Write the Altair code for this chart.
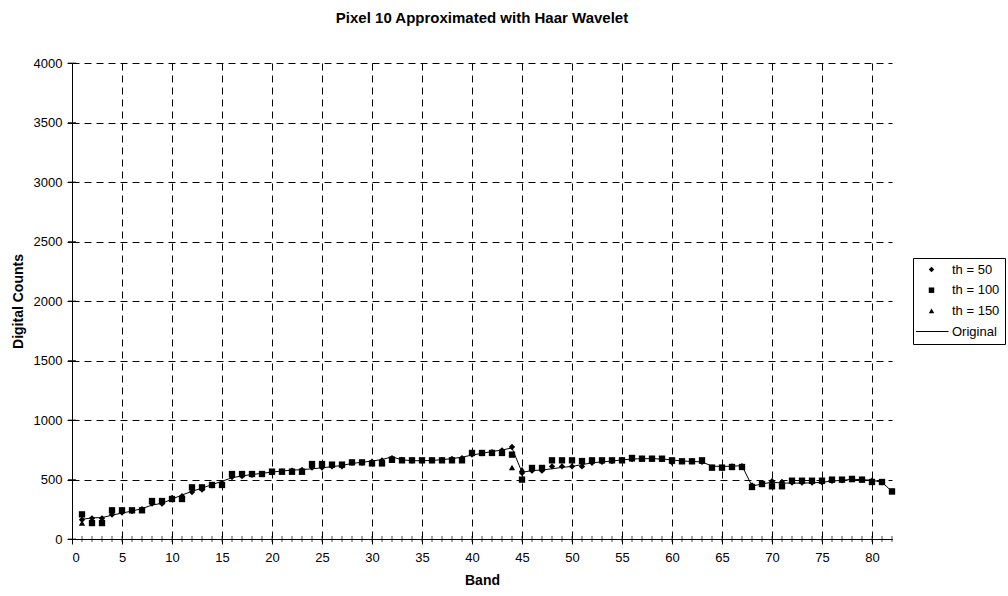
import altair as alt
import pandas as pd

# Spectral bands and digital counts for pixel 10
bands = list(range(1, 83))

original = [
    165, 178, 180, 200, 218, 235, 255, 285, 300, 335,
    370, 400, 428, 457, 485, 515, 530, 542, 552, 562,
    572, 578, 583, 590, 598, 608, 618, 635, 645, 655,
    668, 690, 665, 658, 658, 660, 667, 675, 688, 705,
    720, 735, 748, 765, 560, 575, 580, 590, 602, 610,
    625, 640, 648, 655, 665, 672, 675, 675, 672, 665,
    655, 652, 648, 612, 610, 612, 616, 445, 462, 478,
    470, 470, 470, 472, 476, 488, 492, 503, 498, 494,
    476, 400,
]

th50 = [
    162, 174, 174, 205, 222, 235, 250, 297, 297, 345,
    360, 395, 415, 450, 470, 520, 528, 540, 548, 560,
    568, 575, 580, 600, 600, 610, 610, 640, 640, 650,
    660, 680, 665, 658, 658, 660, 665, 672, 680, 710,
    720, 730, 745, 773, 555, 574, 574, 610, 610, 610,
    610, 640, 648, 655, 665, 672, 675, 675, 672, 644,
    652, 652, 648, 600, 600, 610, 612, 450, 462, 485,
    480, 475, 475, 475, 476, 488, 492, 503, 498, 490,
    476, 400,
]

th100 = [
    207, 134, 134, 241, 241, 241, 241, 319, 319, 336,
    336, 434, 434, 454, 454, 546, 546, 546, 546, 566,
    566, 566, 566, 630, 630, 625, 625, 644, 644, 635,
    635, 667, 661, 661, 661, 661, 661, 661, 661, 723,
    723, 723, 723, 709, 499, 597, 597, 661, 661, 661,
    655, 661, 661, 661, 661, 681, 675, 675, 675, 661,
    653, 653, 661, 600, 600, 605, 605, 437, 462, 443,
    443, 490, 490, 490, 490, 499, 499, 505, 499, 479,
    479, 400,
]

th150 = [
    134, 134, 134, 241, 241, 241, 241, 319, 319, 336,
    336, 434, 434, 454, 454, 546, 546, 546, 546, 566,
    566, 566, 566, 625, 625, 625, 625, 644, 644, 640,
    640, 661, 661, 661, 661, 661, 661, 661, 661, 723,
    723, 723, 723, 600, 585, 597, 597, 661, 661, 661,
    655, 661, 661, 661, 661, 675, 675, 675, 675, 655,
    653, 653, 655, 600, 600, 605, 605, 437, 462, 443,
    443, 490, 490, 490, 490, 499, 499, 499, 499, 479,
    479, 400,
]

series_names = ["th = 50", "th = 100", "th = 150", "Original"]
x_ticks = list(range(0, 81, 5))
y_ticks = list(range(0, 4001, 500))

FONT = "Liberation Sans"

approx = pd.concat(
    [
        pd.DataFrame({"Band": bands, "Counts": vals, "Series": name})
        for name, vals in zip(series_names[:3], [th50, th100, th150])
    ],
    ignore_index=True,
)
orig_df = pd.DataFrame({"Band": bands, "Counts": original})
tick_df = pd.DataFrame({"Band": bands})
ytick_df = pd.DataFrame({"Counts": y_ticks})

x_scale = alt.Scale(domain=[0, 82], nice=False, zero=False)
y_scale = alt.Scale(domain=[0, 4000], nice=False)

x_enc = alt.X(
    "Band:Q",
    scale=x_scale,
    axis=alt.Axis(
        values=x_ticks,
        format="d",
        title="Band",
        grid=True,
        tickSize=5,
        labelPadding=7,
        titlePadding=9,
    ),
)
y_enc = alt.Y(
    "Counts:Q",
    scale=y_scale,
    axis=alt.Axis(
        values=y_ticks,
        format="d",
        title="Digital Counts",
        grid=True,
        tickSize=5,
        labelPadding=5,
        titlePadding=8,
    ),
)

# the "Original" legend entry is a thin filled bar standing in for the line
shape_scale = alt.Scale(
    domain=series_names,
    range=["diamond", "square", "triangle-up", "M-5.7,-0.18H6.2V0.18H-5.7Z"],
)

markers = (
    alt.Chart(approx)
    .mark_point(filled=True, color="black", size=40, opacity=1)
    .encode(
        x=x_enc,
        y=y_enc,
        shape=alt.Shape(
            "Series:N",
            scale=shape_scale,
            legend=alt.Legend(
                title=None,
                orient="none",
                legendX=841,
                legendY=195,
                strokeColor="black",
                fillColor="white",
                padding=5,
                labelFont=FONT,
                labelFontSize=13,
                labelColor="black",
                symbolSize=30,
                symbolFillColor="black",
                symbolOpacity=1,
                symbolOffset=7,
                rowPadding=6.7,
                labelOffset=14,
            ),
        ),
    )
)

line = (
    alt.Chart(orig_df)
    .mark_line(color="black", strokeWidth=1)
    .encode(x=alt.X("Band:Q", scale=x_scale), y=alt.Y("Counts:Q", scale=y_scale))
)

# small band ticks along the x axis
band_ticks = (
    alt.Chart(tick_df)
    .mark_tick(orient="vertical", size=6, thickness=1, color="black")
    .encode(x=alt.X("Band:Q", scale=x_scale), y=alt.datum(0))
)

# inner half of the value ticks on the y axis
value_ticks = (
    alt.Chart(ytick_df)
    .mark_tick(orient="horizontal", size=8, thickness=1, color="black")
    .encode(x=alt.datum(0), y=alt.Y("Counts:Q", scale=y_scale))
)

chart = (
    alt.layer(band_ticks, value_ticks, line, markers)
    .properties(
        width=820,
        height=476,
        padding={"left": 72, "top": 63, "right": 116, "bottom": 57},
        autosize=alt.AutoSizeParams(type="none"),
        background="white",
        title=alt.TitleParams(
            "Pixel 10 Approximated with Haar Wavelet",
            font=FONT,
            fontSize=15,
            fontWeight="bold",
            color="black",
            anchor="middle",
            offset=31,
        ),
    )
    .configure_view(stroke=None)
    .configure_axis(
        labelFont=FONT,
        labelFontSize=13,
        labelColor="black",
        titleFont=FONT,
        titleFontSize=14,
        titleFontWeight="bold",
        titleColor="black",
        domainColor="black",
        tickColor="black",
        gridColor="black",
        gridDash=[7, 5],
        gridWidth=1,
        gridOpacity=1,
    )
)

chart.save("out.html", embed_options={"renderer": "svg", "actions": False})
